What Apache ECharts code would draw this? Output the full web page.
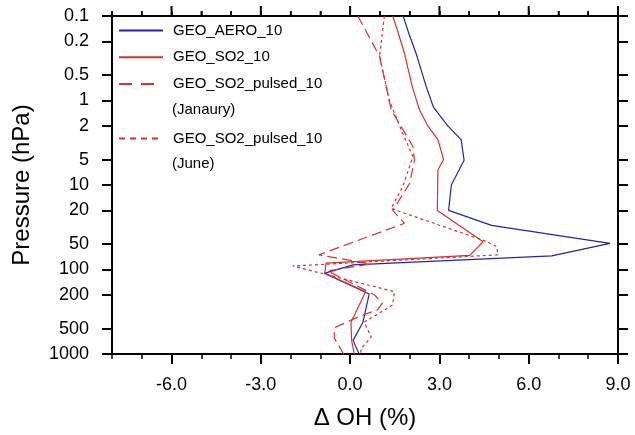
<!DOCTYPE html>
<html>
<head>
<meta charset="utf-8">
<script src="https://cdn.jsdelivr.net/npm/echarts@6/dist/echarts.min.js"></script>
<style>
html, body { margin: 0; padding: 0; background: #fff; }
#chart { width: 635px; height: 435px; }
</style>
</head>
<body>
<div id="chart"></div>
<script>
// pressure (hPa) of each vertex and the Delta OH (%) there
var aeroP = [0.1, 0.16, 0.28, 0.69, 1.2, 2.0, 2.9, 5.1, 10, 20, 30, 49, 69, 88, 111, 195, 420, 690, 1000];
var aeroX = [1.78, 1.97, 2.22, 2.56, 2.8, 3.28, 3.73, 3.83, 3.40, 3.31, 4.75, 8.73, 6.77, 0.1, -0.87, 0.64, 0.43, 0.10, 0.30];

var so2P = [0.1, 0.16, 0.28, 0.69, 1.29, 2.0, 2.9, 5.0, 6.6, 20, 47, 68, 84, 110, 183, 420, 690, 1000];
var so2X = [1.43, 1.62, 1.83, 2.09, 2.33, 2.61, 2.95, 3.14, 2.95, 2.93, 4.47, 4.02, -0.81, -0.85, 0.52, 0.03, 0.05, 0.14];

var janP = [0.1, 0.3, 1.29, 3.5, 5.1, 9.6, 20, 28.4, 67, 86, 104, 200, 250, 300, 360, 490, 650, 1000];
var janX = [0.26, 0.99, 1.38, 2.11, 2.16, 2.0, 1.43, 1.83, -1.05, 0.68, -0.75, 0.82, 1.08, 0.92, 0.3, -0.53, -0.53, -0.22];

var junP = [0.1, 0.3, 1.0, 2.2, 4.6, 10.4, 19, 46.5, 53.5, 67, 91, 183, 263, 420, 630, 860, 1000];
var junX = [1.15, 0.99, 1.32, 1.71, 2.11, 1.77, 1.38, 4.58, 4.92, 4.97, -1.93, 1.49, 1.43, 0.47, 0.71, 0.37, 0.35];

var pressureTicks = [0.1, 0.2, 0.5, 1, 2, 5, 10, 20, 50, 100, 200, 500, 1000];
var xMajorTicks = [-6, -3, 0, 3, 6, 9];
var xMinorTicks = [-8, -7, -5, -4, -2, -1, 1, 2, 4, 5, 7, 8];

var FONT = 'Liberation Sans, Arial, sans-serif';
var BLUE = '#2424a8';
var RED = '#d93030';

// the pressure axis is a plain value axis on log10(p)
function toLog(p) { return Math.log10(p); }
function pairs(xs, ps) {
    return xs.map(function (x, i) { return [x, toLog(ps[i])]; });
}
var tickLogs = pressureTicks.map(toLog);

// grid 0 holds the data, grid 1 (same box) the long bottom ticks
var box = { left: 112, right: 17, top: 16, bottom: 81, outerBoundsMode: 'none' };

function xAxisMinor(pos) {
    return {
        type: 'value', gridIndex: 0, position: pos, min: -8, max: 9, interval: 1,
        axisLine: { show: true, onZero: false, lineStyle: { color: '#000', width: 2 } },
        axisTick: { show: true, length: 5, lineStyle: { color: '#000', width: 1.5 } },
        axisLabel: { show: false },
        splitLine: { show: false }
    };
}
function yAxisBase(pos) {
    return {
        type: 'value', gridIndex: 0, position: pos, min: -1, max: 3, inverse: true,
        axisLine: { show: true, onZero: false, lineStyle: { color: '#000', width: 2 } },
        axisTick: { show: true, customValues: tickLogs, length: 10, lineStyle: { color: '#000', width: 2 } },
        axisLabel: { show: false },
        splitLine: { show: false }
    };
}

var xBottom = xAxisMinor('bottom');
xBottom.axisLabel = {
    show: true, customValues: xMajorTicks, margin: 22,
    fontSize: 18, color: '#000', fontFamily: FONT,
    formatter: function (v) { return v.toFixed(1); }
};
xBottom.name = '\u0394 OH (%)';
xBottom.nameLocation = 'middle';
xBottom.nameGap = 52;
xBottom.nameTextStyle = { fontSize: 24, color: '#000', fontFamily: FONT };

var xBottomMajor = {
    type: 'value', gridIndex: 1, position: 'bottom', min: -8, max: 9,
    axisLine: { show: false, onZero: false },
    axisTick: { show: true, customValues: xMajorTicks, length: 10, lineStyle: { color: '#000', width: 2 } },
    axisLabel: { show: false },
    splitLine: { show: false }
};

var yLeft = yAxisBase('left');
yLeft.axisLabel = {
    show: true, customValues: tickLogs, margin: 23,
    fontSize: 18, color: '#000', fontFamily: FONT,
    formatter: function (v) { return String(Number(Math.pow(10, v).toPrecision(3))); }
};
yLeft.name = 'Pressure (hPa)';
yLeft.nameLocation = 'middle';
yLeft.nameGap = 78;
yLeft.nameTextStyle = { fontSize: 24, color: '#000', fontFamily: FONT };

function lineSeries(name, xs, ps, color, type) {
    return {
        name: name, type: 'line', data: pairs(xs, ps),
        xAxisIndex: 0, yAxisIndex: 0,
        symbol: 'none', smooth: false, silent: true,
        lineStyle: { color: color, width: 1.2, type: type },
        itemStyle: { color: color }
    };
}

// top-edge ticks, placed through the x scale at the top of the pressure axis
var topTickData = xMajorTicks.map(function (v) { return [v, 10]; })
    .concat(xMinorTicks.map(function (v) { return [v, 5]; }));
var topTicks = {
    type: 'custom', xAxisIndex: 0, yAxisIndex: 0, silent: true, clip: false, z: 5,
    data: topTickData,
    renderItem: function (params, api) {
        var p = api.coord([api.value(0), -1]);
        var len = api.value(1);
        return {
            type: 'line',
            shape: { x1: p[0], y1: p[1], x2: p[0], y2: p[1] - len },
            style: { stroke: '#000', lineWidth: len > 5 ? 2 : 1.5 }
        };
    }
};

var myChart = echarts.init(document.getElementById('chart'));

var legendText = { fontSize: 15, color: '#000', fontFamily: FONT, padding: [0, 0, 0, 5] };
function shortName(n) { return n.split(' (')[0]; }

var option = {
    animation: false,
    textStyle: { fontFamily: FONT },
    grid: [box, box],
    xAxis: [xBottom, xAxisMinor('top'), xBottomMajor],
    yAxis: [yLeft, yAxisBase('right'),
        { type: 'value', gridIndex: 1, min: 0, max: 1, show: false }],
    legend: [{
        orient: 'vertical', left: 118, top: 23, padding: 0,
        itemWidth: 44, itemHeight: 18, itemGap: 11.7,
        selectedMode: false, textStyle: legendText,
        itemStyle: { opacity: 0 },
        formatter: shortName,
        data: ['GEO_AERO_10', 'GEO_SO2_10',
            { name: 'GEO_SO2_pulsed_10 (Janaury)', lineStyle: { type: [13, 9] } }]
    }, {
        orient: 'vertical', left: 118, top: 131, padding: 0,
        itemWidth: 44, itemHeight: 18,
        selectedMode: false, textStyle: legendText,
        itemStyle: { opacity: 0 },
        formatter: shortName,
        data: [{ name: 'GEO_SO2_pulsed_10 (June)', lineStyle: { type: [6, 5] } }]
    }],
    graphic: [
        { type: 'text', x: 172, y: 110, style: { text: '(Janaury)', fontSize: 15, fill: '#000', fontFamily: FONT, verticalAlign: 'middle' } },
        { type: 'text', x: 172, y: 163.5, style: { text: '(June)', fontSize: 15, fill: '#000', fontFamily: FONT, verticalAlign: 'middle' } }
    ],
    series: [
        lineSeries('GEO_AERO_10', aeroX, aeroP, BLUE, 'solid'),
        lineSeries('GEO_SO2_10', so2X, so2P, RED, 'solid'),
        lineSeries('GEO_SO2_pulsed_10 (Janaury)', janX, janP, RED, [10, 5]),
        lineSeries('GEO_SO2_pulsed_10 (June)', junX, junP, RED, [3, 3]),
        topTicks
    ]
};

myChart.setOption(option);
</script>
</body>
</html>
